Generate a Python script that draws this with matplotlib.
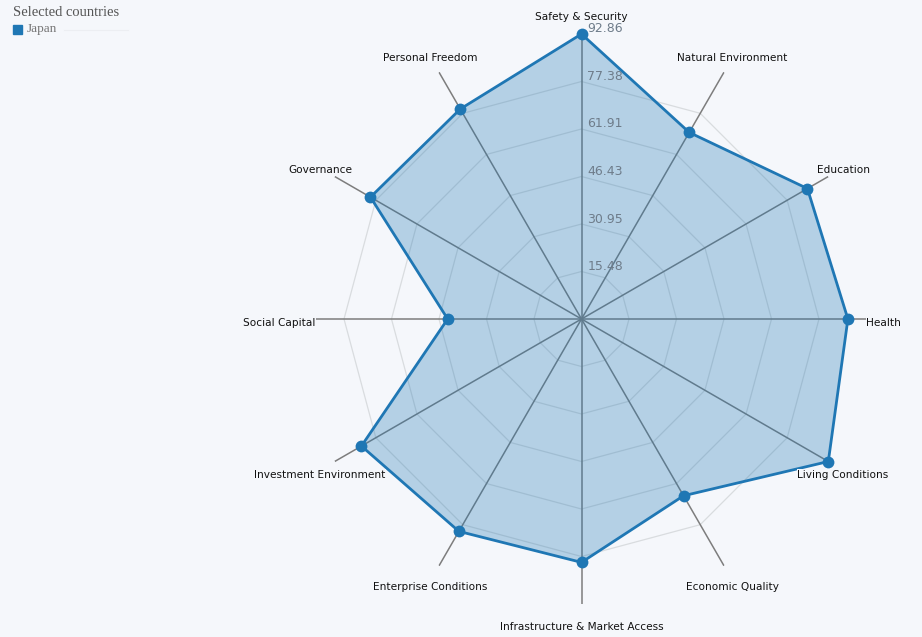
"""Radar chart: Japan across 12 prosperity pillars."""

import numpy as np
import matplotlib
matplotlib.use("Agg")
import matplotlib.pyplot as plt
from matplotlib.patches import Rectangle
from matplotlib.lines import Line2D

categories = [
    "Safety & Security", "Natural Environment", "Education", "Health",
    "Living Conditions", "Economic Quality", "Infrastructure & Market Access",
    "Enterprise Conditions", "Investment Environment", "Social Capital",
    "Governance", "Personal Freedom",
]
japan = [92.86, 70.2, 85.0, 86.8, 92.86, 66.5, 79.3, 79.9, 82.8, 43.6, 79.4, 79.0]
ring_values = [15.48, 30.95, 46.43, 61.91, 77.38, 92.86]
ring_labels = ["15.48", "30.95", "46.43", "61.91", "77.38", "92.86"]
legend_title = "Selected countries"
series_name = "Japan"

BG = "#f5f7fb"
BLUE = "#1f77b4"
W, H = 922, 637
CX, CY, R = 581.5, 319, 285   # centre and outer radius in pixels

fig = plt.figure(figsize=(W / 100, H / 100), dpi=100, facecolor=BG)
ax = fig.add_axes([(CX - R) / W, (H - CY - R) / H, 2 * R / W, 2 * R / H],
                  projection="polar")
ax.set_facecolor("none")
ax.set_theta_zero_location("N")
ax.set_theta_direction(-1)
rmax = ring_values[-1]
ax.set_ylim(0, rmax)
ax.grid(False)
ax.set_xticks([])
ax.set_yticks([])
ax.spines["polar"].set_visible(False)

n = len(categories)
theta = np.linspace(0, 2 * np.pi, n, endpoint=False)
theta_c = np.append(theta, theta[0])

# polygon grid rings (outermost not drawn)
for rv in ring_values[:-1]:
    ax.plot(theta_c, [rv] * (n + 1), color="#d9dcdf", lw=0.9, zorder=1)

# spokes
for t in theta:
    ax.plot([t, t], [0, rmax], color="#7d7d7d", lw=1.1, zorder=2,
            solid_capstyle="butt")

vals = np.append(japan, japan[0])
ax.fill(theta_c, vals, color=BLUE, alpha=0.3, lw=0, zorder=3, clip_on=False)
ax.plot(theta_c, vals, color=BLUE, lw=2, zorder=4, clip_on=False)
ax.plot(theta, japan, "o", color=BLUE, ms=8.5, mec="none", zorder=5,
        clip_on=False)

# radial tick labels along the top spoke
for rv, lab in zip(ring_values, ring_labels):
    ax.annotate(lab, (0, rv), xytext=(6, 5), textcoords="offset pixels",
                ha="left", va="center", fontsize=9, color="#6e7c8a",
                annotation_clip=False, zorder=6)

# category labels, nudged a little downwards (more so at the bottom)
r_lab = rmax * 302 / 285
for t, c in zip(theta, categories):
    dy = -(3.5 - 3 * np.cos(t))
    ax.annotate(c, (t, r_lab), xytext=(0, dy), textcoords="offset pixels",
                ha="center", va="center", fontsize=7.6, color="#111111",
                annotation_clip=False, zorder=6,
                bbox=dict(boxstyle="square,pad=0.05", fc=BG, ec="none"))

# legend in top-left corner
fig.text(13 / W, 1 - 12 / H, legend_title, ha="left", va="center",
         fontsize=10.5, color="#555555", family="Liberation Serif")
fig.patches.append(Rectangle((13 / W, 1 - 34 / H), 9 / W, 9 / H,
                             transform=fig.transFigure, color=BLUE))
fig.text(27 / W, 1 - 29 / H, series_name, ha="left", va="center",
         fontsize=9.5, color="#777777", family="Liberation Serif")
fig.lines.append(Line2D([64 / W, 128 / W], [1 - 30 / H, 1 - 30 / H],
                        transform=fig.transFigure, color="#eceef2", lw=0.8))

fig.savefig("out.png", dpi=100, facecolor=BG)
